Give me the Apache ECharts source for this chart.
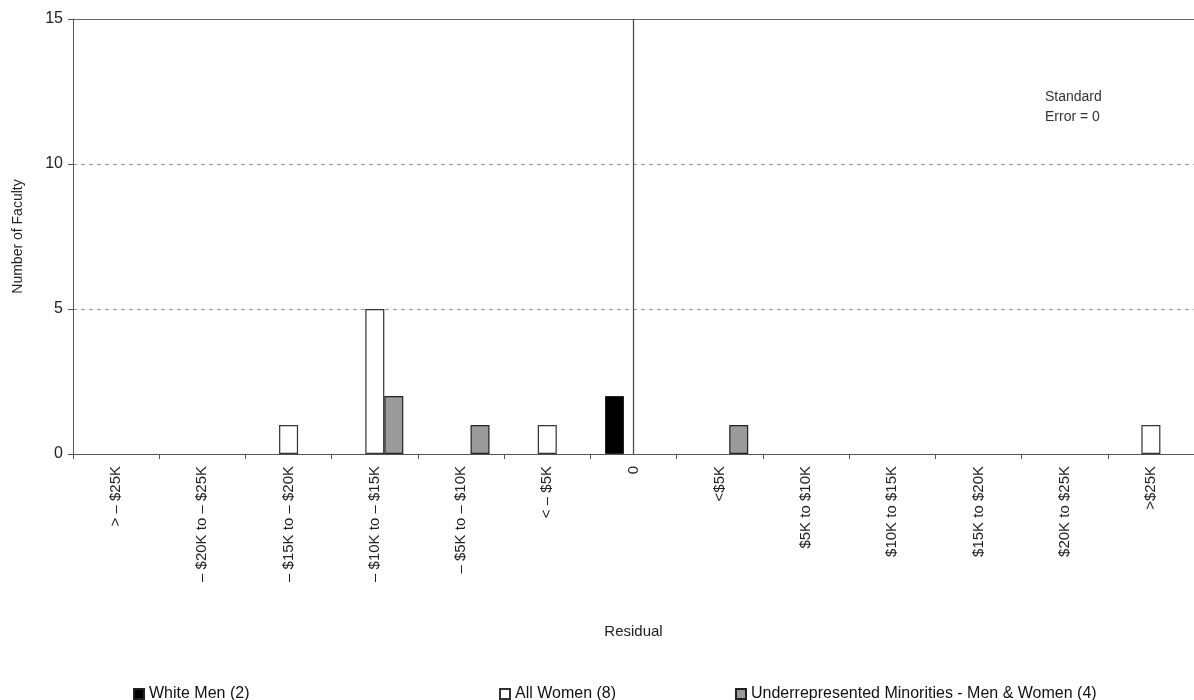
<!DOCTYPE html>
<html>
<head>
<meta charset="utf-8">
<script src="https://cdn.jsdelivr.net/npm/echarts@6/dist/echarts.min.js"></script>
<style>html,body{margin:0;padding:0;background:#fff;}#c{width:1194px;height:700px;}</style>
</head>
<body>
<div id="c"></div>
<script>
const categories = ["> – $25K", "– $20K to – $25K", "– $15K to – $20K", "– $10K to – $15K", "– $5K to – $10K", "< – $5K", "0", "<$5K", "$5K to $10K", "$10K to $15K", "$15K to $20K", "$20K to $25K", ">$25K"];
const whiteMen = [0, 0, 0, 0, 0, 0, 2, 0, 0, 0, 0, 0, 0];
const allWomen = [0, 0, 1, 5, 0, 1, 0, 0, 0, 0, 0, 0, 1];
const urm = [0, 0, 0, 2, 1, 0, 0, 1, 0, 0, 0, 0, 0];
const seriesNames = ["White Men (2)", "All Women (8)", "Underrepresented Minorities - Men & Women (4)"];
const yTicks = [0, 5, 10, 15];

const font = "Liberation Sans, Arial, sans-serif";
const chart = echarts.init(document.getElementById('c'));
const barBase = { type: 'bar', barWidth: 19, barGap: '0%', barCategoryGap: '0%' };
const zeroIndex = categories.indexOf("0");
const yMax = yTicks[yTicks.length - 1];
// empty bins are drawn as no bar (avoid a zero-height outline)
const bars = arr => arr.map(v => (v === 0 ? null : v));
function legendFor(name, left) {
  return {
    data: [name], left: left, top: 681, itemWidth: 10, itemHeight: 10, itemGap: 4,
    icon: 'rect', textStyle: { fontFamily: font, fontSize: 16, color: '#111' }
  };
}
chart.setOption({
  animation: false,
  backgroundColor: '#fff',
  grid: { left: 73, right: 0, top: 19, bottom: 246, show: false },
  legend: [legendFor(seriesNames[0], 128), legendFor(seriesNames[1], 494), legendFor(seriesNames[2], 730)],
  xAxis: {
    type: 'category', data: categories,
    name: 'Residual', nameLocation: 'middle', nameGap: 170,
    nameTextStyle: { fontFamily: font, fontSize: 15, color: '#222' },
    axisLine: { lineStyle: { color: '#555', width: 1 } },
    axisTick: { show: true, alignWithLabel: false, length: 5, lineStyle: { color: '#555' } },
    axisLabel: { interval: 0, rotate: 90, margin: 12, fontFamily: font, fontSize: 15, color: '#222' }
  },
  yAxis: {
    type: 'value', min: yTicks[0], max: yMax, interval: 5,
    name: 'Number of Faculty', nameLocation: 'middle', nameGap: 48,
    nameTextStyle: { fontFamily: font, fontSize: 14, color: '#222' },
    axisLine: { show: true, lineStyle: { color: '#555', width: 1 } },
    axisTick: { show: true, length: 5, lineStyle: { color: '#555' } },
    axisLabel: { fontFamily: font, fontSize: 16, color: '#222', margin: 10 },
    splitLine: { show: true, lineStyle: { color: '#999', type: [4, 4] } }
  },
  series: [
    Object.assign({}, barBase, {
      name: seriesNames[0], data: bars(whiteMen),
      itemStyle: { color: '#000', borderColor: '#222', borderWidth: 1 },
      markLine: {
        silent: true, symbol: 'none', label: { show: false },
        lineStyle: { color: '#666', type: 'solid', width: 1.2 },
        data: [{ yAxis: yMax }]
      }
    }),
    Object.assign({}, barBase, {
      name: seriesNames[1], data: bars(allWomen),
      itemStyle: { color: '#fff', borderColor: '#333', borderWidth: 1.2 },
      markLine: {
        silent: true, symbol: 'none', label: { show: false },
        lineStyle: { color: '#444', type: 'solid', width: 1.2 },
        data: [{ xAxis: zeroIndex }]
      }
    }),
    Object.assign({}, barBase, {
      name: seriesNames[2], data: bars(urm),
      itemStyle: { color: '#9a9a9a', borderColor: '#222', borderWidth: 1.2 }
    })
  ],
  graphic: [{
    type: 'text', left: 1045, top: 87,
    style: { text: 'Standard\nError = 0', fontFamily: font, fontSize: 14, lineHeight: 20, fill: '#333' }
  }]
});
</script>
</body>
</html>
